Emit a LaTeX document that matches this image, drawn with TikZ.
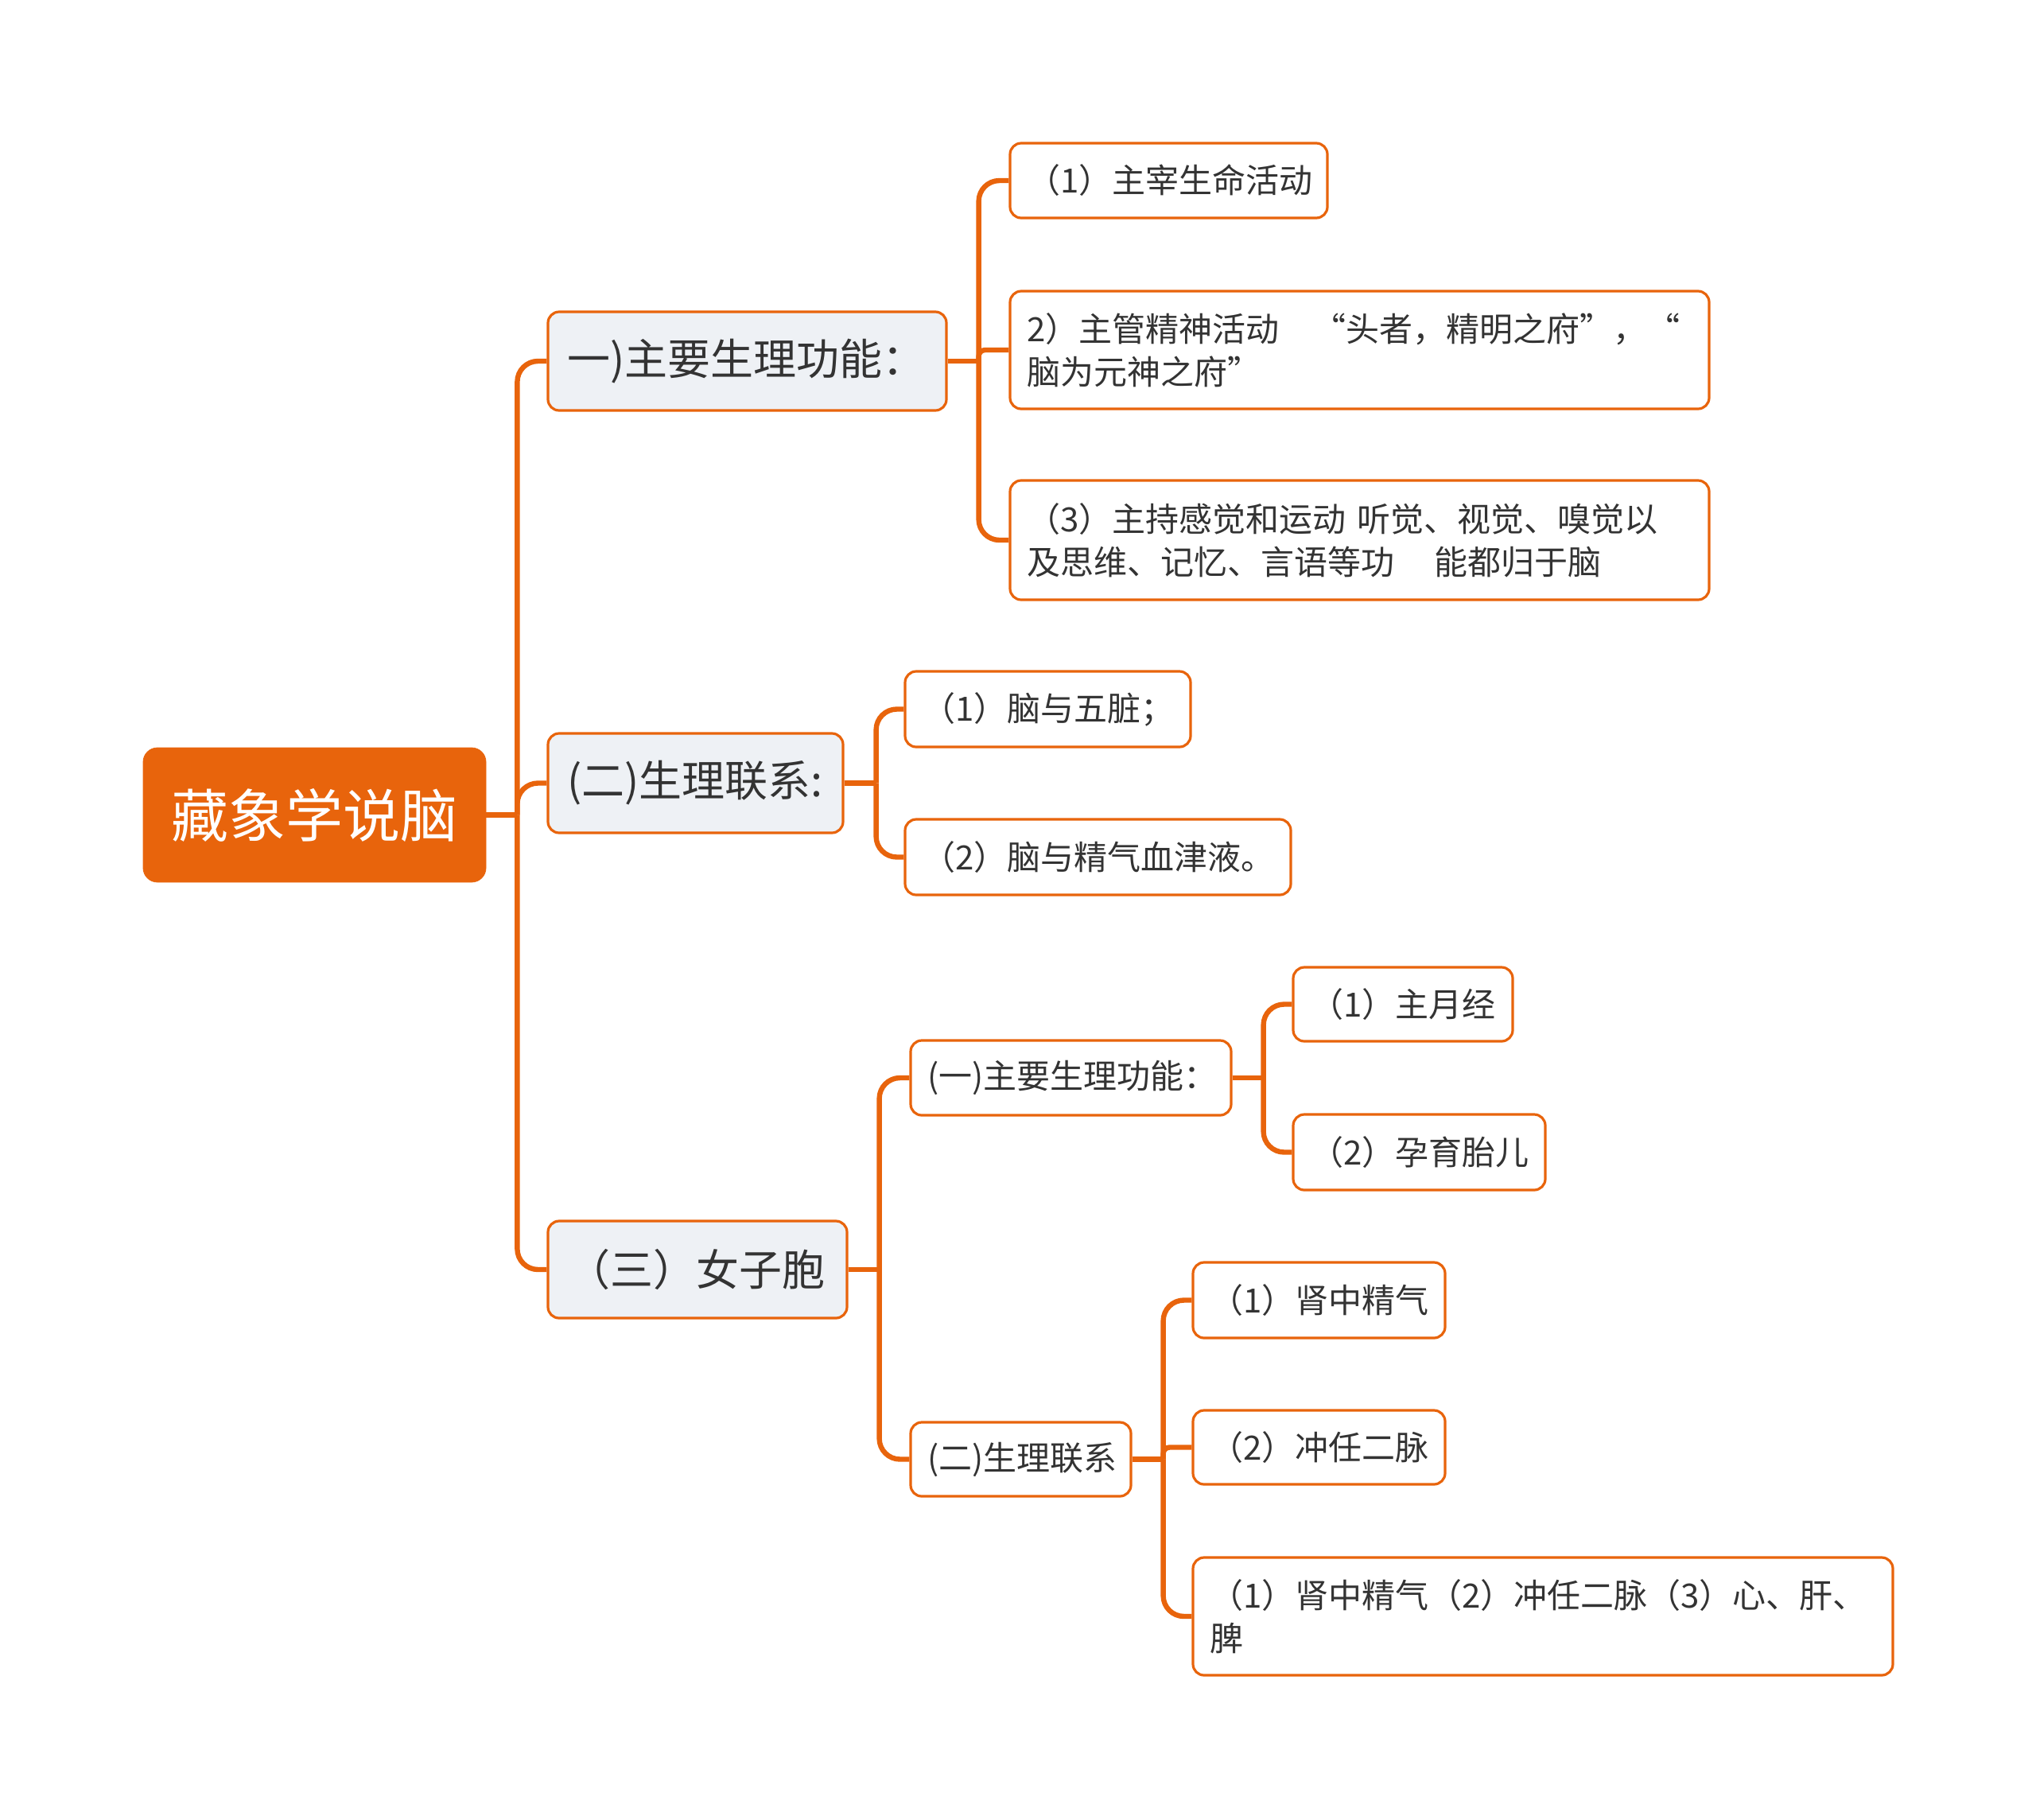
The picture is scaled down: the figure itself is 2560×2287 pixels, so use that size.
\documentclass[tikz,border=0pt]{standalone}
\usepackage{fontspec}
\setmainfont{Noto Sans CJK SC}
\definecolor{org}{HTML}{E8640C}
\definecolor{lvone}{HTML}{EEF1F5}
\definecolor{txt}{HTML}{333333}
\begin{document}
\begin{tikzpicture}[x=0.5pt,y=-0.5pt,
  base/.style={draw=org, line width=1.6pt, rounded corners=7pt, text=txt, inner ysep=0pt, align=left},
  rootbox/.style={fill=org, draw=org, rounded corners=9pt, text=white, font=\fontsize{36}{44}\selectfont, align=center, inner sep=0pt},
  lvonebox/.style={base, fill=lvone, font=\fontsize{27}{33}\selectfont, inner xsep=12pt},
  lvtwobox/.style={base, fill=white, font=\fontsize{21}{27}\selectfont, inner xsep=10.5pt},
  conn/.style={draw=org, line width=3.2pt, rounded corners=13pt},
  flat/.style={rounded corners=4pt}
]
\useasboundingbox (0,0) rectangle (2560,2287);

% root
\node[rootbox, minimum width=215.5pt, minimum height=84.5pt] (root) at (395.5,1024.5) {藏象学说脑};

% level 1
\node[lvonebox, text width=226.5pt, minimum height=62pt] (A) at (939.5,454) {一)主要生理功能：};
\node[lvonebox, text width=161.5pt, minimum height=62.5pt] (B) at (874.5,984.5) {(二)生理联系:};
\node[lvonebox, text width=164pt, minimum height=61pt] (C) at (877,1596) {（三）女子胞};

% level 2 under A
\node[lvtwobox, text width=178.5pt, minimum height=47pt] (A1) at (1469.5,227) {（1）主宰生命活动};
\node[lvtwobox, text width=418.5pt, minimum height=74pt] (A2) at (1709.5,440) {\mbox{2）主管精神活动\hspace{1em}“头者，精明之府”，“}\\脑为元神之府”};
\node[lvtwobox, text width=418.5pt, minimum height=75pt] (A3) at (1709.5,679) {\mbox{（3）主持感觉和运动 听觉、视觉、嗅觉以}\\\mbox{及思维、记忆、言语等功\hspace{1.2em}能都归于脑}};

% level 2 under B
\node[lvtwobox, text width=158.5pt, minimum height=47.5pt] (B1) at (1317.5,891.5) {（1）脑与五脏；};
\node[lvtwobox, text width=221.5pt, minimum height=47.5pt] (B2) at (1380.5,1077.5) {（2）脑与精气血津液。};

% level 2 under C
\node[lvtwobox, text width=180.5pt, minimum height=47pt] (C1) at (1346.5,1355) {(一)主要生理功能：};
\node[lvtwobox, text width=117.5pt, minimum height=46.5pt] (C2) at (1283.5,1834.5) {(二)生理联系};

% level 3
\node[lvtwobox, text width=117pt, minimum height=46.5pt] (C1a) at (1764,1262.5) {（1）主月经};
\node[lvtwobox, text width=137.5pt, minimum height=47.5pt] (C1b) at (1784.5,1448.5) {（2）孕育胎儿};
\node[lvtwobox, text width=137.5pt, minimum height=47.5pt] (C2a) at (1658.5,1634.5) {（1）肾中精气};
\node[lvtwobox, text width=137.5pt, minimum height=46.5pt] (C2b) at (1658.5,1819.5) {（2）冲任二脉};
\node[lvtwobox, text width=419pt, minimum height=74pt] (C2c) at (1940,2032) {\mbox{（1）肾中精气（2）冲任二脉（3）心、肝、}\\脾};

% junctions
\path (root.east) ++(39,0) coordinate (j0);
\path (A.east) ++(39,0) coordinate (jA);
\path (B.east) ++(40,0) coordinate (jB);
\path (C.east) ++(39,0) coordinate (jC);
\path (C1.east) ++(39,0) coordinate (jC1);
\path (C2.east) ++(39,0) coordinate (jC2);

% connectors
\draw[conn] (root.east) -- (j0);
\draw[conn] (j0) |- (A.west);
\draw[conn] (j0) |- (B.west);
\draw[conn] (j0) |- (C.west);

\draw[conn] (A.east) -- (jA);
\draw[conn] (jA) |- (A1.west);
\draw[conn, flat] (jA) |- (A2.west);
\draw[conn] (jA) |- (A3.west);

\draw[conn] (B.east) -- (jB);
\draw[conn] (jB) |- (B1.west);
\draw[conn] (jB) |- (B2.west);

\draw[conn] (C.east) -- (jC);
\draw[conn] (jC) |- (C1.west);
\draw[conn] (jC) |- (C2.west);

\draw[conn] (C1.east) -- (jC1);
\draw[conn] (jC1) |- (C1a.west);
\draw[conn] (jC1) |- (C1b.west);

\draw[conn] (C2.east) -- (jC2);
\draw[conn] (jC2) |- (C2a.west);
\draw[conn, flat] (jC2) |- (C2b.west);
\draw[conn] (jC2) |- (C2c.west);
\end{tikzpicture}
\end{document}
